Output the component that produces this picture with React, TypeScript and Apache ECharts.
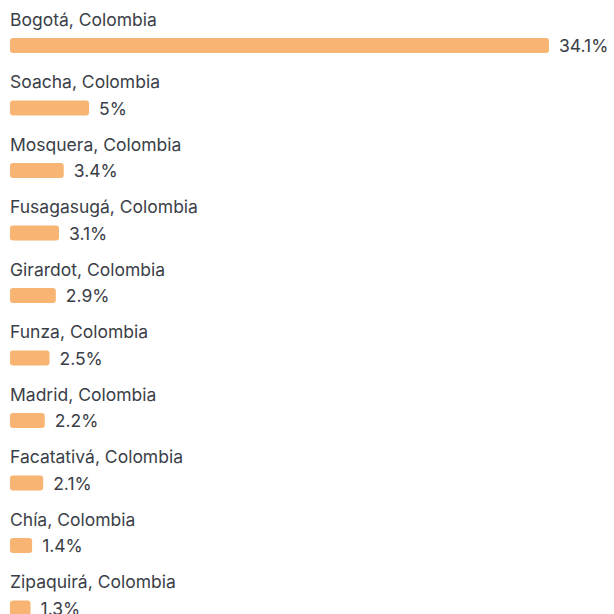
import React, { useEffect, useRef } from "react";
import * as echarts from "echarts";

const cities = [
  "Bogotá, Colombia",
  "Soacha, Colombia",
  "Mosquera, Colombia",
  "Fusagasugá, Colombia",
  "Girardot, Colombia",
  "Funza, Colombia",
  "Madrid, Colombia",
  "Facatativá, Colombia",
  "Chía, Colombia",
  "Zipaquirá, Colombia",
];
const shares = [34.1, 5, 3.4, 3.1, 2.9, 2.5, 2.2, 2.1, 1.4, 1.3];

export default function App() {
  const ref = useRef<HTMLDivElement>(null);
  useEffect(() => {
    if (!ref.current) return;
    const chart = echarts.init(ref.current, null, { renderer: "svg" });
    chart.setOption({
      animation: false,
      grid: { left: 10, right: 65, top: 14.25, height: 625 },
      xAxis: { type: "value", min: 0, max: 34.1, show: false },
      yAxis: {
        type: "category",
        data: cities,
        inverse: true,
        axisLine: { show: false },
        axisTick: { show: false },
        splitLine: { show: false },
        axisLabel: {
          inside: true,
          margin: 0,
          interval: 0,
          showMinLabel: true,
          showMaxLabel: true,
          hideOverlap: false,
          align: "left",
          verticalAlign: "middle",
          formatter: (v: string) => "{a|" + v + "}\n{b| }",
          rich: {
            a: { color: "#3b4048", fontSize: 17.5, fontFamily: "Inter", lineHeight: 20 },
            b: { fontSize: 10, lineHeight: 53, height: 53 },
          },
        },
      },
      series: [
        {
          type: "bar",
          data: shares,
          barWidth: 15,
          itemStyle: { color: "#f8b473", borderRadius: 3 },
          label: {
            show: true,
            position: "right",
            distance: 10,
            formatter: (p: any) => p.value + "%",
            color: "#3b4048",
            fontSize: 17.5,
            fontFamily: "Inter",
          },
        },
      ],
    });
    return () => chart.dispose();
  }, []);
  return (
    <div
      ref={ref}
      style={{ position: "fixed", left: 0, top: 0, width: 614, height: 660, background: "#fff" }}
    />
  );
}
